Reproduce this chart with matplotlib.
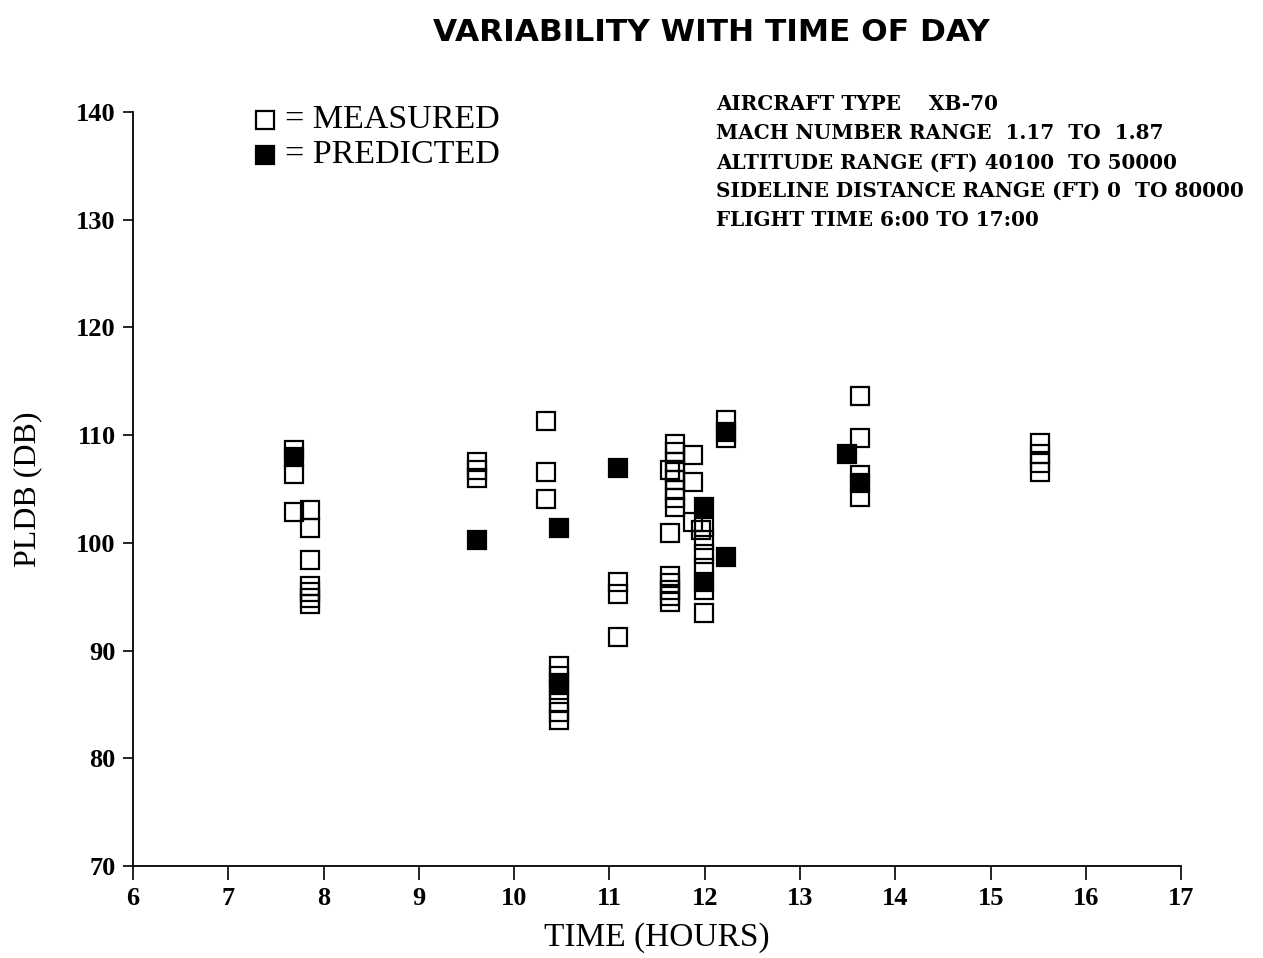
import matplotlib.pyplot as plt
import numpy as np

# Data
meas_time = [7.69, 7.69, 7.69,
             7.86, 7.86, 7.86, 7.86, 7.86, 7.86, 7.86,
             9.61, 9.61, 9.61,
             10.33, 10.33, 10.33,
             10.47, 10.47, 10.47, 10.47, 10.47, 10.47,
             11.09, 11.09, 11.09,
             11.69, 11.69, 11.69, 11.69, 11.69, 11.69, 11.69, 11.69,
             11.63, 11.63,
             11.64, 11.64, 11.64, 11.64, 11.64,
             11.88, 11.88, 11.88,
             11.96,
             11.99, 11.99, 11.99, 11.99, 11.99, 11.99,
             12.22, 12.22,
             13.63, 13.63, 13.63, 13.63,
             15.52, 15.52, 15.52, 15.52]
meas_pldb = [108.6, 106.4, 102.9,
             103.1, 101.4, 98.4, 96.0, 95.4, 94.9, 94.3,
             107.5, 106.8, 106.0,
             111.3, 106.6, 104.1,
             88.6, 87.6, 86.3, 85.1, 84.3, 83.6,
             96.4, 95.3, 91.3,
             109.2, 108.4, 107.5, 106.6, 105.8, 104.9, 104.2, 103.3,
             106.8, 100.9,
             96.9, 96.3, 95.6, 95.1, 94.5,
             108.2, 105.7, 101.9,
             101.2,
             101.5, 100.3, 99.0, 97.7, 95.6, 93.5,
             111.4, 109.7,
             113.6, 109.7, 106.3, 104.3,
             109.3, 108.3, 107.4, 106.6]

pred_time = [7.69, 9.61, 10.47, 10.47, 11.09, 11.99, 11.99, 12.22, 12.22, 13.49, 13.63]
pred_pldb = [108.0, 100.3, 101.4, 87.0, 107.0, 103.3, 96.4, 110.3, 98.7, 108.3, 105.6]

xticks = np.arange(6, 18, 1)
yticks = np.arange(70, 150, 10)

info = ['AIRCRAFT TYPE    XB-70',
        'MACH NUMBER RANGE  1.17  TO  1.87',
        'ALTITUDE RANGE (FT) 40100  TO 50000',
        'SIDELINE DISTANCE RANGE (FT) 0  TO 80000',
        'FLIGHT TIME 6:00 TO 17:00']

serif = 'DejaVu Serif'

fig = plt.figure(figsize=(12.63, 9.58), dpi=100)
ax = fig.add_axes([0.1053, 0.096, 0.830, 0.787])

ax.plot(meas_time, meas_pldb, 's', ms=13.5, mfc='none', mec='black', mew=1.6)
ax.plot(pred_time, pred_pldb, 's', ms=13.5, mfc='black', mec='black', mew=1.6)

ax.set_xlim(6, 17)
ax.set_ylim(70, 140)
ax.set_xticks(xticks)
ax.set_yticks(yticks)
ax.spines['top'].set_visible(False)
ax.spines['right'].set_visible(False)
ax.spines['left'].set_linewidth(1.3)
ax.spines['bottom'].set_linewidth(1.3)
ax.tick_params(axis='x', direction='out', length=10, width=1.2, pad=5)
ax.tick_params(axis='y', direction='out', length=7.5, width=1.2, pad=5)
for lab in ax.get_xticklabels() + ax.get_yticklabels():
    lab.set_fontfamily('Liberation Serif')
    lab.set_fontweight('bold')
    lab.set_fontsize(19)

ax.set_xlabel('TIME (HOURS)', family='Liberation Serif', fontsize=24, labelpad=9)
ax.set_ylabel('PLDB (DB)', family='Liberation Serif', fontsize=23, labelpad=24)

fig.text(0.563, 0.966, 'VARIABILITY WITH TIME OF DAY', family='DejaVu Sans',
         fontweight='bold', fontsize=22.5, ha='center', va='center')

# legend
ax.plot([0.126], [0.99], 's', ms=13.5, mfc='none', mec='black', mew=1.6,
        transform=ax.transAxes, clip_on=False)
ax.plot([0.126], [0.943], 's', ms=13.5, mfc='black', mec='black', mew=1.6,
        transform=ax.transAxes, clip_on=False)
ax.text(0.145, 0.99, '= MEASURED', family='Liberation Serif', fontsize=24.5,
        transform=ax.transAxes, va='center')
ax.text(0.145, 0.943, '= PREDICTED', family='Liberation Serif', fontsize=24.5,
        transform=ax.transAxes, va='center')

for i, line in enumerate(info):
    fig.text(0.567, 0.891 - i * 0.0302, line, family=serif, fontweight='bold',
             fontsize=14.4, va='center')

plt.savefig('out.png', dpi=100)
